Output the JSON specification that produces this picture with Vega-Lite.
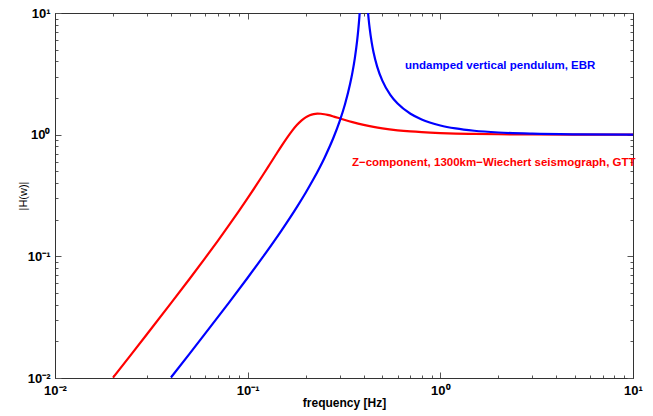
{
  "$schema": "https://vega.github.io/schema/vega-lite/v6.json",
  "width": 578,
  "height": 365,
  "autosize": {"type": "none"},
  "padding": {"left": 55, "top": 13, "right": 20, "bottom": 38},
  "background": "white",
  "config": {
    "view": {"stroke": "#333333", "strokeWidth": 1},
    "font": "Liberation Sans",
    "axis": {"grid": false, "domainColor": "#333333", "tickColor": "#555555", "labelColor": "#000000", "titleColor": "#000000"}
  },
  "datasets": {
    "curves": [
      {"series": "seismograph", "f": 0.02, "H": 0.010074},
      {"series": "seismograph", "f": 0.025, "H": 0.015807},
      {"series": "seismograph", "f": 0.03, "H": 0.022879},
      {"series": "seismograph", "f": 0.04, "H": 0.041206},
      {"series": "seismograph", "f": 0.05, "H": 0.065471},
      {"series": "seismograph", "f": 0.06, "H": 0.096228},
      {"series": "seismograph", "f": 0.07, "H": 0.134177},
      {"series": "seismograph", "f": 0.08, "H": 0.18018},
      {"series": "seismograph", "f": 0.09, "H": 0.235246},
      {"series": "seismograph", "f": 0.1, "H": 0.3005},
      {"series": "seismograph", "f": 0.11, "H": 0.377148},
      {"series": "seismograph", "f": 0.12, "H": 0.466227},
      {"series": "seismograph", "f": 0.13, "H": 0.568388},
      {"series": "seismograph", "f": 0.14, "H": 0.683385},
      {"series": "seismograph", "f": 0.15, "H": 0.809369},
      {"series": "seismograph", "f": 0.16, "H": 0.94222},
      {"series": "seismograph", "f": 0.17, "H": 1.07519},
      {"series": "seismograph", "f": 0.18, "H": 1.1995},
      {"series": "seismograph", "f": 0.19, "H": 1.30624},
      {"series": "seismograph", "f": 0.2, "H": 1.38889},
      {"series": "seismograph", "f": 0.21, "H": 1.4451},
      {"series": "seismograph", "f": 0.22, "H": 1.47675},
      {"series": "seismograph", "f": 0.23, "H": 1.48832},
      {"series": "seismograph", "f": 0.24, "H": 1.48517},
      {"series": "seismograph", "f": 0.25, "H": 1.47222},
      {"series": "seismograph", "f": 0.26, "H": 1.45334},
      {"series": "seismograph", "f": 0.28, "H": 1.40805},
      {"series": "seismograph", "f": 0.3, "H": 1.36204},
      {"series": "seismograph", "f": 0.32, "H": 1.3201},
      {"series": "seismograph", "f": 0.35, "H": 1.26711},
      {"series": "seismograph", "f": 0.4, "H": 1.20203},
      {"series": "seismograph", "f": 0.45, "H": 1.15751},
      {"series": "seismograph", "f": 0.5, "H": 1.12613},
      {"series": "seismograph", "f": 0.6, "H": 1.08611},
      {"series": "seismograph", "f": 0.7, "H": 1.06256},
      {"series": "seismograph", "f": 0.8, "H": 1.04753},
      {"series": "seismograph", "f": 1.0, "H": 1.03014},
      {"series": "seismograph", "f": 1.2, "H": 1.02083},
      {"series": "seismograph", "f": 1.5, "H": 1.01327},
      {"series": "seismograph", "f": 2, "H": 1.00744},
      {"series": "seismograph", "f": 3, "H": 1.0033},
      {"series": "seismograph", "f": 5, "H": 1.00119},
      {"series": "seismograph", "f": 10, "H": 1.0003},
      {"series": "pendulum", "f": 0.04, "H": 0.010101},
      {"series": "pendulum", "f": 0.05, "H": 0.015873},
      {"series": "pendulum", "f": 0.06, "H": 0.023018},
      {"series": "pendulum", "f": 0.08, "H": 0.041667},
      {"series": "pendulum", "f": 0.1, "H": 0.066667},
      {"series": "pendulum", "f": 0.12, "H": 0.098901},
      {"series": "pendulum", "f": 0.15, "H": 0.163636},
      {"series": "pendulum", "f": 0.18, "H": 0.253918},
      {"series": "pendulum", "f": 0.2, "H": 0.333333},
      {"series": "pendulum", "f": 0.22, "H": 0.433692},
      {"series": "pendulum", "f": 0.25, "H": 0.641026},
      {"series": "pendulum", "f": 0.28, "H": 0.960784},
      {"series": "pendulum", "f": 0.3, "H": 1.285714},
      {"series": "pendulum", "f": 0.32, "H": 1.777778},
      {"series": "pendulum", "f": 0.34, "H": 2.603604},
      {"series": "pendulum", "f": 0.35, "H": 3.266667},
      {"series": "pendulum", "f": 0.36, "H": 4.263158},
      {"series": "pendulum", "f": 0.37, "H": 5.926407},
      {"series": "pendulum", "f": 0.375, "H": 7.258065},
      {"series": "pendulum", "f": 0.38, "H": 9.25641},
      {"series": "pendulum", "f": 0.385, "H": 12.588},
      {"series": "pendulum", "f": 0.39, "H": 19.253},
      {"series": "pendulum", "f": 0.41, "H": 20.753},
      {"series": "pendulum", "f": 0.415, "H": 14.088},
      {"series": "pendulum", "f": 0.42, "H": 10.7561},
      {"series": "pendulum", "f": 0.425, "H": 8.75758},
      {"series": "pendulum", "f": 0.43, "H": 7.4257},
      {"series": "pendulum", "f": 0.44, "H": 5.7619},
      {"series": "pendulum", "f": 0.45, "H": 4.76471},
      {"series": "pendulum", "f": 0.47, "H": 3.62726},
      {"series": "pendulum", "f": 0.5, "H": 2.77778},
      {"series": "pendulum", "f": 0.55, "H": 2.12281},
      {"series": "pendulum", "f": 0.6, "H": 1.8},
      {"series": "pendulum", "f": 0.7, "H": 1.48485},
      {"series": "pendulum", "f": 0.8, "H": 1.33333},
      {"series": "pendulum", "f": 1.0, "H": 1.19048},
      {"series": "pendulum", "f": 1.2, "H": 1.125},
      {"series": "pendulum", "f": 1.5, "H": 1.07656},
      {"series": "pendulum", "f": 2, "H": 1.04167},
      {"series": "pendulum", "f": 3, "H": 1.0181},
      {"series": "pendulum", "f": 5, "H": 1.00644},
      {"series": "pendulum", "f": 10, "H": 1.0016}
    ],
    "labels": [
      {"series": "pendulum", "f": 0.655, "H": 3.66, "label": "undamped vertical pendulum, EBR"},
      {"series": "seismograph", "f": 0.3475, "H": 0.585, "label": "Z−component, 1300km−Wiechert seismograph, GTT"}
    ]
  },
  "layer": [
    {
      "data": {"name": "curves"},
      "mark": {"type": "line", "clip": true, "strokeWidth": 2.2, "interpolate": "monotone"},
      "encoding": {
        "x": {
          "field": "f", "type": "quantitative",
          "scale": {"type": "log", "domain": [0.01, 10], "nice": false},
          "axis": {
            "orient": "bottom",
            "values": [0.01, 0.02, 0.03, 0.04, 0.05, 0.06, 0.07, 0.08, 0.09, 0.1, 0.2, 0.3, 0.4, 0.5, 0.6, 0.7, 0.8, 0.9, 1, 2, 3, 4, 5, 6, 7, 8, 9, 10],
            "labelExpr": "datum.value==0.01?'10⁻²':datum.value==0.1?'10⁻¹':datum.value==1?'10⁰':datum.value==10?'10¹':''",
            "tickSize": {"condition": {"test": "datum.value==0.01||datum.value==0.1||datum.value==1||datum.value==10", "value": -6}, "value": -3},
            "labelOverlap": false, "labelBound": false, "labelFlush": false,
            "labelFontSize": 13, "labelFontWeight": "bold", "labelPadding": 12,
            "title": "frequency [Hz]", "titleFontSize": 12, "titleFontWeight": "bold", "titlePadding": -3
          }
        },
        "y": {
          "field": "H", "type": "quantitative",
          "scale": {"type": "log", "domain": [0.01, 10], "nice": false},
          "axis": {
            "orient": "left",
            "values": [0.01, 0.02, 0.03, 0.04, 0.05, 0.06, 0.07, 0.08, 0.09, 0.1, 0.2, 0.3, 0.4, 0.5, 0.6, 0.7, 0.8, 0.9, 1, 2, 3, 4, 5, 6, 7, 8, 9, 10],
            "labelExpr": "datum.value==0.01?'10⁻²':datum.value==0.1?'10⁻¹':datum.value==1?'10⁰':datum.value==10?'10¹':''",
            "tickSize": {"condition": {"test": "datum.value==0.01||datum.value==0.1||datum.value==1||datum.value==10", "value": -6}, "value": -3},
            "labelOverlap": false, "labelBound": false, "labelFlush": false,
            "labelFontSize": 13, "labelFontWeight": "bold", "labelPadding": 11,
            "title": "|H(w)|", "titleFontSize": 11, "titleFontWeight": "normal", "titlePadding": -1
          }
        },
        "color": {
          "field": "series", "type": "nominal",
          "scale": {"domain": ["seismograph", "pendulum"], "range": ["#ff0000", "#0000ff"]},
          "legend": null
        }
      }
    },
    {
      "data": {"name": "labels"},
      "mark": {"type": "text", "align": "left", "baseline": "middle", "fontSize": 11.5, "fontWeight": "bold", "font": "Liberation Sans"},
      "encoding": {
        "x": {
          "field": "f", "type": "quantitative",
          "axis": {
            "orient": "top",
            "values": [0.01, 0.02, 0.03, 0.04, 0.05, 0.06, 0.07, 0.08, 0.09, 0.1, 0.2, 0.3, 0.4, 0.5, 0.6, 0.7, 0.8, 0.9, 1, 2, 3, 4, 5, 6, 7, 8, 9, 10],
            "labels": false, "title": null,
            "tickSize": {"condition": {"test": "datum.value==0.01||datum.value==0.1||datum.value==1||datum.value==10", "value": -6}, "value": -3}
          }
        },
        "y": {
          "field": "H", "type": "quantitative",
          "axis": {
            "orient": "right",
            "values": [0.01, 0.02, 0.03, 0.04, 0.05, 0.06, 0.07, 0.08, 0.09, 0.1, 0.2, 0.3, 0.4, 0.5, 0.6, 0.7, 0.8, 0.9, 1, 2, 3, 4, 5, 6, 7, 8, 9, 10],
            "labels": false, "title": null,
            "tickSize": {"condition": {"test": "datum.value==0.01||datum.value==0.1||datum.value==1||datum.value==10", "value": -6}, "value": -3}
          }
        },
        "text": {"field": "label", "type": "nominal"},
        "color": {"field": "series", "type": "nominal", "legend": null}
      }
    }
  ],
  "resolve": {"axis": {"x": "independent", "y": "independent"}}
}
